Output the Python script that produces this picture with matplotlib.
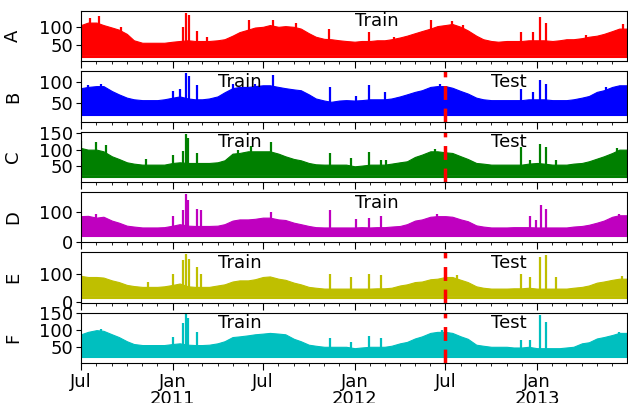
import numpy as np
import pandas as pd
import matplotlib
matplotlib.use("Agg")
import matplotlib.pyplot as plt
import matplotlib.dates as mdates

# semi-monthly upper envelope of each series (1st and 15th of each month)
dates = pd.date_range("2010-07-01", periods=72, freq="SMS")
end_date = pd.Timestamp("2013-06-30")
split_date = pd.Timestamp("2012-07-01")

names = ["A", "B", "C", "D", "E", "F"]
colors = ["r", "b", "g", "m", "y", "c"]

a_top = [105, 112, 112, 105, 98, 92, 80, 62, 55, 55, 55, 55, 58, 60, 62, 60, 60, 60,
         62, 65, 75, 85, 92, 98, 100, 105, 100, 102, 100, 95, 82, 72, 66, 65, 62, 60,
         58, 60, 60, 62, 62, 65, 70, 75, 82, 88, 95, 102, 105, 108, 100, 90, 75, 65,
         60, 58, 60, 60, 60, 62, 62, 62, 60, 62, 65, 65, 68, 72, 75, 80, 88, 95]
b_top = [85, 88, 90, 90, 78, 70, 62, 58, 56, 56, 56, 58, 62, 65, 60, 58, 58, 60,
         65, 75, 85, 88, 88, 90, 92, 92, 88, 85, 82, 80, 70, 60, 55, 52, 55, 56,
         55, 56, 58, 58, 58, 60, 65, 70, 76, 80, 88, 90, 90, 86, 78, 72, 62, 58,
         56, 56, 56, 56, 56, 58, 58, 58, 56, 56, 56, 58, 62, 66, 76, 80, 88, 92]
c_top = [105, 100, 100, 95, 80, 72, 62, 58, 55, 55, 55, 55, 60, 62, 60, 60, 60, 60,
         62, 68, 88, 90, 95, 95, 95, 95, 88, 80, 72, 68, 60, 56, 55, 55, 55, 55,
         50, 52, 55, 55, 55, 58, 62, 65, 78, 85, 95, 95, 92, 90, 80, 72, 60, 58,
         55, 55, 55, 55, 55, 58, 60, 58, 55, 55, 55, 58, 60, 65, 73, 80, 90, 100]
d_top = [87, 88, 82, 85, 72, 65, 55, 52, 49, 49, 49, 50, 55, 60, 55, 54, 54, 54,
         55, 60, 72, 76, 76, 78, 82, 82, 76, 74, 65, 60, 54, 50, 49, 49, 49, 49,
         49, 50, 49, 50, 50, 52, 54, 60, 72, 76, 85, 87, 87, 85, 76, 70, 56, 52,
         49, 49, 49, 50, 50, 50, 49, 49, 49, 49, 49, 52, 54, 58, 65, 72, 85, 90]
e_top = [92, 88, 88, 86, 76, 70, 60, 56, 53, 53, 53, 55, 60, 65, 55, 53, 53, 53,
         58, 62, 72, 76, 76, 80, 88, 90, 82, 78, 68, 62, 53, 50, 47, 47, 47, 47,
         47, 47, 47, 48, 48, 50, 58, 62, 70, 72, 80, 82, 88, 88, 78, 70, 55, 50,
         47, 47, 47, 48, 48, 50, 47, 47, 47, 47, 47, 50, 53, 58, 68, 72, 78, 82]
f_top = [88, 95, 100, 98, 88, 80, 68, 60, 57, 57, 57, 57, 60, 62, 58, 57, 57, 58,
         62, 68, 80, 82, 85, 88, 90, 92, 90, 88, 75, 68, 58, 55, 52, 52, 52, 52,
         48, 50, 52, 52, 52, 55, 62, 66, 76, 82, 92, 95, 95, 92, 82, 75, 58, 55,
         52, 52, 52, 50, 50, 52, 48, 48, 48, 48, 50, 52, 62, 65, 76, 80, 86, 92]
tops = [a_top, b_top, c_top, d_top, e_top, f_top]

# lower edge of the dense band and the night-time floor
band_low = [20, 25, 23, 25, 20, 28]
floor = [15, 20, 18, 19, 15, 23]

# isolated spikes
a_spikes = [("2010-07-20", 125), ("2010-08-06", 130), ("2011-01-21", 100), ("2011-01-27", 140),
            ("2011-02-02", 132), ("2011-02-18", 88), ("2011-06-04", 118), ("2011-07-21", 118),
            ("2011-11-11", 93), ("2012-01-29", 86), ("2012-06-02", 119), ("2012-07-15", 117),
            ("2012-11-30", 86), ("2012-12-23", 86), ("2013-01-06", 128), ("2013-01-19", 111),
            ("2013-06-22", 107), ("2010-09-20", 100), ("2011-03-10", 70), ("2011-09-05", 110),
            ("2012-03-20", 72), ("2012-08-05", 105), ("2013-04-10", 78)]
b_spikes = [("2010-08-10", 95), ("2011-01-02", 78), ("2011-01-15", 82), ("2011-01-27", 121),
            ("2011-02-02", 115), ("2011-02-19", 92), ("2011-05-02", 95), ("2011-07-21", 116),
            ("2011-11-12", 87), ("2012-01-04", 66), ("2012-01-30", 92), ("2012-03-01", 76),
            ("2012-11-30", 82), ("2012-12-23", 75), ("2013-01-06", 104), ("2013-01-19", 96),
            ("2010-07-15", 93), ("2011-06-15", 96), ("2012-06-20", 95), ("2013-05-20", 88)]
c_spikes = [("2010-07-01", 126), ("2010-08-01", 123), ("2010-08-21", 115), ("2010-11-09", 73),
            ("2011-01-02", 85), ("2011-01-21", 95), ("2011-01-28", 148), ("2011-02-01", 135),
            ("2011-02-19", 90), ("2011-05-12", 100), ("2011-06-08", 112), ("2011-07-18", 123),
            ("2011-11-12", 90), ("2011-12-25", 75), ("2012-01-30", 92), ("2012-02-23", 70),
            ("2012-03-04", 70), ("2012-11-30", 108), ("2012-12-17", 70), ("2013-01-06", 116),
            ("2013-01-19", 108), ("2013-02-08", 70), ("2012-06-10", 102), ("2013-06-10", 105)]
d_spikes = [("2010-08-01", 95), ("2011-01-02", 87), ("2011-01-21", 109), ("2011-01-28", 163),
            ("2011-02-01", 140), ("2011-02-19", 111), ("2011-02-26", 108), ("2011-07-18", 100),
            ("2011-11-12", 107), ("2012-01-04", 76), ("2012-01-30", 82), ("2012-02-23", 87),
            ("2012-12-17", 87), ("2012-12-30", 75), ("2013-01-09", 125), ("2013-01-19", 111),
            ("2012-06-15", 95), ("2013-06-15", 95)]
e_spikes = [("2010-07-01", 100), ("2010-11-13", 70), ("2011-01-02", 100), ("2011-01-21", 147),
            ("2011-01-27", 168), ("2011-02-02", 150), ("2011-02-19", 123), ("2011-02-26", 100),
            ("2011-11-12", 100), ("2011-12-25", 88), ("2012-01-30", 100), ("2012-02-23", 94),
            ("2012-11-30", 100), ("2012-12-17", 88), ("2013-01-06", 158), ("2013-01-19", 165),
            ("2013-02-08", 88), ("2012-07-25", 95), ("2013-06-20", 90)]
f_spikes = [("2011-01-02", 81), ("2011-01-21", 120), ("2011-01-28", 149), ("2011-02-01", 135),
            ("2011-02-19", 95), ("2011-11-12", 78), ("2011-12-25", 67), ("2012-01-30", 83),
            ("2012-02-23", 78), ("2012-11-30", 71), ("2012-12-17", 72), ("2013-01-06", 143),
            ("2013-01-19", 124), ("2010-08-10", 104), ("2012-06-25", 100), ("2013-06-15", 96)]
spikes = [a_spikes, b_spikes, c_spikes, d_spikes, e_spikes, f_spikes]

ylims = [(3, 145), (4, 126), (3, 154), (-1, 168), (-3, 175), (5, 149)]
yticks = [[50, 100], [50, 100], [50, 100, 150], [0, 100], [0, 100], [50, 100, 150]]
has_test = [False, True, True, False, True, True]

fs = 13
fig, axes = plt.subplots(6, 1, sharex=True, figsize=(6.28, 4.03), dpi=100)
plt.subplots_adjust(left=0.129, right=0.998, top=0.973, bottom=0.099, hspace=0.2)

x = list(dates) + [end_date]
for i, ax in enumerate(axes):
    top = tops[i] + [tops[i][-1]]
    ax.fill_between(x, band_low[i], top, color=colors[i], lw=0.8, edgecolor=colors[i])
    ax.plot([x[0], x[-1]], [floor[i], floor[i]], color=colors[i], lw=1.5)
    sd = [pd.Timestamp(d) for d, v in spikes[i]]
    sv = [v for d, v in spikes[i]]
    ax.vlines(sd, band_low[i], sv, color=colors[i], lw=1.6)
    ax.set_ylim(*ylims[i])
    ax.set_yticks(yticks[i])
    ax.tick_params(axis="y", labelsize=fs, pad=2)
    ax.set_ylabel(names[i], fontsize=fs)
    ax.yaxis.set_label_coords(-0.108, 0.5)
    if has_test[i]:
        ax.axvline(split_date, color="r", lw=2.5, ls="--", dashes=(4, 2.5))
        ax.text(0.291, 0.79, "Train", transform=ax.transAxes, fontsize=fs, ha="center", va="center")
        ax.text(0.784, 0.79, "Test", transform=ax.transAxes, fontsize=fs, ha="center", va="center")
    else:
        ax.text(0.542, 0.79, "Train", transform=ax.transAxes, fontsize=fs, ha="center", va="center")

ax = axes[-1]
ax.set_xlim(pd.Timestamp("2010-07-01"), end_date)
ax.xaxis.set_major_locator(mdates.MonthLocator(bymonth=[1, 7]))
ax.xaxis.set_minor_locator(mdates.MonthLocator())
ax.xaxis.set_major_formatter(matplotlib.ticker.FixedFormatter(
    ["Jul", "Jan\n2011", "Jul", "Jan\n2012", "Jul", "Jan\n2013"]))
ax.tick_params(axis="x", which="major", labelsize=fs, pad=2)
for lbl in ax.get_xticklabels():
    lbl.set_linespacing(0.95)
for a in axes:
    a.tick_params(axis="x", which="major", length=5)
    a.tick_params(axis="x", which="minor", length=2)

fig.savefig("out.png", dpi=100)
